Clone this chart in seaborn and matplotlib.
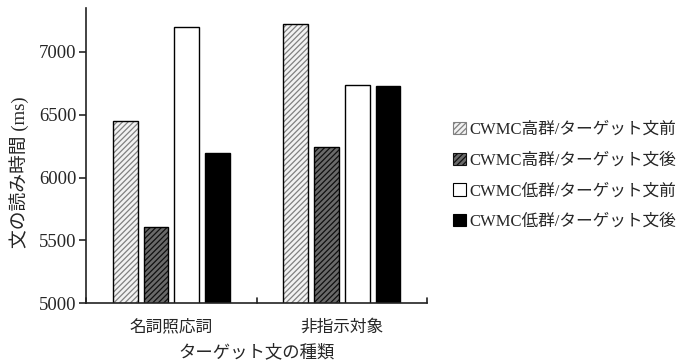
import matplotlib
matplotlib.use("Agg")
import matplotlib.pyplot as plt
from matplotlib.patches import Patch, Rectangle
import seaborn as sns
import pandas as pd

categories = ["名詞照応詞", "非指示対象"]
groups = [
    "CWMC高群/ターゲット文前",
    "CWMC高群/ターゲット文後",
    "CWMC低群/ターゲット文前",
    "CWMC低群/ターゲット文後",
]
high_before = [6450, 7220]
high_after = [5605, 6245]
low_before = [7200, 6740]
low_after = [6195, 6730]

series = [high_before, high_after, low_before, low_after]
rows = []
for g, vals in zip(groups, series):
    for c, v in zip(categories, vals):
        rows.append({"種類": c, "群": g, "時間": v})
df = pd.DataFrame(rows)

sns.set_theme(style="white")
FAM = ["Liberation Serif", "Noto Sans CJK JP"]
plt.rcParams["font.family"] = FAM
plt.rcParams["hatch.linewidth"] = 0.9

fig = plt.figure(figsize=(6.89, 3.63), dpi=100)
ax = fig.add_axes([0.125, 0.165, 0.495, 0.813])

sns.barplot(data=df, x="種類", y="時間", hue="群", hue_order=groups,
            order=categories, width=0.72, gap=0.19, ax=ax,
            edgecolor="black", linewidth=1.0, legend=False)

styles = [
    dict(face="#f2f2f2", hatch="//////", hcol="#808080"),
    dict(face="#6a6a6a", hatch="//////", hcol="#101010"),
    dict(face="white", hatch=None, hcol="black"),
    dict(face="black", hatch=None, hcol="black"),
]

# hatched bars: hatch drawn in its own colour, black outline laid on top
for cont, st in zip(ax.containers, styles):
    for p in cont:
        p.set_facecolor(st["face"])
        if st["hatch"]:
            p.set_hatch(st["hatch"])
            p.set_edgecolor(st["hcol"])
            p.set_linewidth(0)
            ax.add_patch(Rectangle(p.get_xy(), p.get_width(), p.get_height(),
                                   fill=False, edgecolor="black", lw=1.0,
                                   zorder=p.get_zorder() + 0.1))
        else:
            p.set_edgecolor("black")

ax.set_ylim(5000, 7350)
ax.set_xlim(-0.5, 1.5)
ax.set_yticks([5000, 5500, 6000, 6500, 7000])
ax.set_yticklabels(["5000", "5500", "6000", "6500", "7000"], fontsize=13.5)
ax.set_xticks([0, 1])
ax.set_xticklabels(categories, fontsize=12)
ax.tick_params(axis="x", length=0, pad=12)
ax.tick_params(axis="y", length=5, width=1.2, direction="out", left=True, pad=2)
# boundary ticks between categories, pointing up
for xb in [-0.5, 0.5, 1.5]:
    ax.plot([xb, xb], [5000, 5000 + 2350 * 0.016], color="#222222",
            lw=1.2, clip_on=False, zorder=5)

for s in ["top", "right"]:
    ax.spines[s].set_visible(False)
for s in ["left", "bottom"]:
    ax.spines[s].set_color("#222222")
    ax.spines[s].set_linewidth(1.2)

ax.set_xlabel("ターゲット文の種類", fontsize=12.5, labelpad=6)
ax.set_ylabel("文の読み時間 (ms)", fontsize=13.5)
ax.yaxis.set_label_coords(-0.168, 0.445)

handles = []
for g, st in zip(groups, styles):
    handles.append(Patch(facecolor=st["face"],
                         edgecolor=st["hcol"] if st["hatch"] else "black",
                         linewidth=0.8, hatch=st["hatch"], label=g))
leg = fig.legend(handles=handles, loc="center left",
                 bbox_to_anchor=(0.648, 0.515), frameon=False,
                 fontsize=12, handlelength=0.75, handleheight=0.75,
                 handletextpad=0.25, labelspacing=0.88, borderaxespad=0)

fig.savefig("out.png", dpi=100)
